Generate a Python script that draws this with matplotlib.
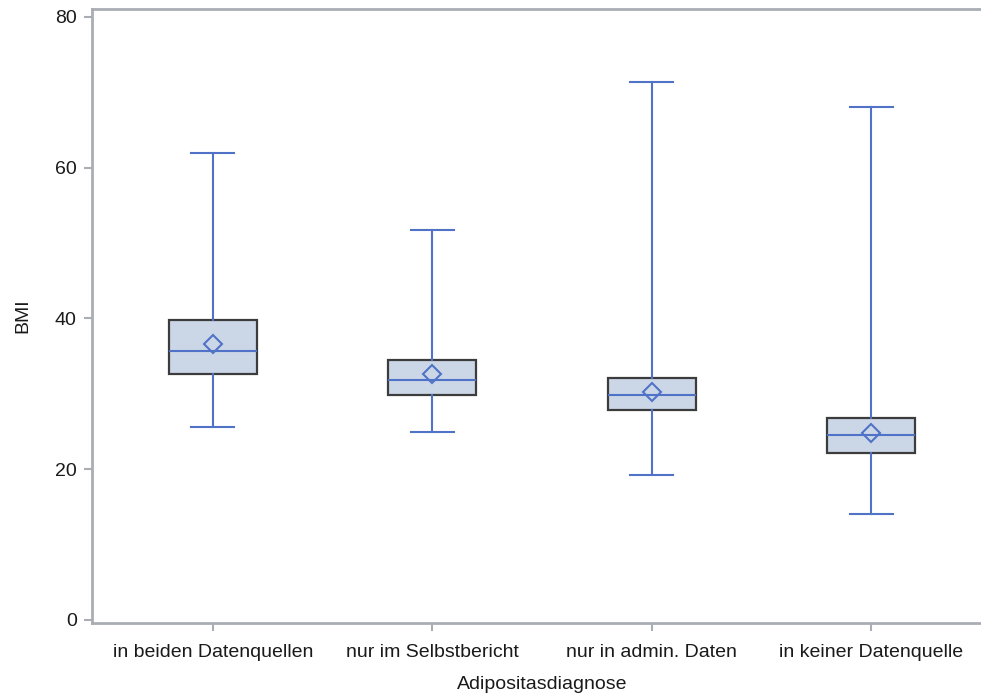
import matplotlib
matplotlib.use("Agg")
import matplotlib.pyplot as plt

plt.rcParams['font.family'] = ['Liberation Sans', 'DejaVu Sans']

categories = ["in beiden Datenquellen", "nur im Selbstbericht",
              "nur in admin. Daten", "in keiner Datenquelle"]
whisker_low = [25.6, 25.0, 19.2, 14.0]
q1 = [32.6, 29.9, 27.8, 22.1]
median = [35.7, 31.9, 29.8, 24.5]
q3 = [39.8, 34.5, 32.1, 26.8]
whisker_high = [62.0, 51.8, 71.4, 68.1]
mean = [36.6, 32.6, 30.2, 24.8]

y_ticks = [0, 20, 40, 60, 80]

blue = "#5073c8"
fill = "#cbd7e7"
edge = "#3c3c3c"
spine = "#a9aeb4"
text = "#1a1a1a"

fig = plt.figure(figsize=(9.81, 6.95), dpi=100)
ax = fig.add_axes([92 / 981, 1 - 623 / 695, (992 - 92) / 981, (623 - 9) / 695])

stats = []
for i, lab in enumerate(categories):
    stats.append(dict(label=lab, whislo=whisker_low[i], q1=q1[i], med=median[i],
                      q3=q3[i], whishi=whisker_high[i], mean=mean[i], fliers=[]))

ax.bxp(stats, positions=range(len(categories)), widths=0.40, patch_artist=True,
       showmeans=True, showfliers=False,
       boxprops=dict(facecolor=fill, edgecolor=edge, linewidth=1.6),
       medianprops=dict(color=blue, linewidth=1.5),
       whiskerprops=dict(color=blue, linewidth=1.5),
       capprops=dict(color=blue, linewidth=1.5),
       capwidths=0.196,
       meanprops=dict(marker="D", markerfacecolor="none", markeredgecolor=blue,
                      markeredgewidth=1.5, markersize=9))

ax.set_xlim(-0.55, 3.55)
ax.set_ylim(-0.4, 81.06)
ax.set_yticks(y_ticks)
ax.set_yticklabels([str(t) for t in y_ticks])
ax.set_xticks(range(len(categories)))
ax.set_xticklabels(categories)

for s in ax.spines.values():
    s.set_color(spine)
    s.set_linewidth(2)

ax.tick_params(axis="both", colors=spine, length=6, width=1.5, labelsize=14,
               labelcolor=text, pad=5)
ax.tick_params(axis="x", pad=9)

ax.set_ylabel("BMI", fontsize=14, color=text, labelpad=17)
ax.set_xlabel("Adipositasdiagnose", fontsize=14, color=text, labelpad=11)

fig.savefig("out.png", dpi=100)
